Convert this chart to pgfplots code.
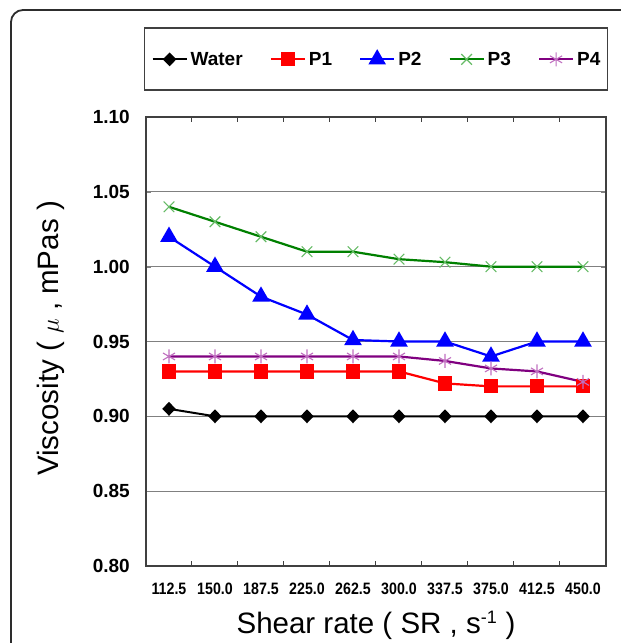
\documentclass[border=0pt]{standalone}
\usepackage{pgfplots}
\pgfplotsset{compat=1.18}
\usepackage{fontspec}
\setmainfont{Liberation Sans}
\definecolor{gridgray}{HTML}{808080}
\definecolor{axgray}{HTML}{404040}
\definecolor{pthree}{HTML}{008000}
\definecolor{pthreem}{HTML}{66BB66}
\definecolor{pfour}{HTML}{800080}
\definecolor{pfourm}{HTML}{C070C0}
\begin{document}
\begin{tikzpicture}[x=1pt,y=1pt]
\path[use as bounding box] (0,0) rectangle (621,643);
\draw[axgray!70!black, line width=1.8pt, rounded corners=12pt] (11,-20) -- (11,633) -- (660,633);
\begin{axis}[
  at={(146pt,77pt)}, anchor=south west,
  scale only axis, width=460pt, height=449pt,
  xmin=-0.5, xmax=9.5, ymin=0.8, ymax=1.1,
  xtick={0,1,2,3,4,5,6,7,8,9},
  xticklabels={112.5,150.0,187.5,225.0,262.5,300.0,337.5,375.0,412.5,450.0},
  minor xtick={0.5,1.5,2.5,3.5,4.5,5.5,6.5,7.5,8.5},
  major x tick style={draw=none},
  minor x tick style={axgray, line width=1pt},
  minor tick length=5pt,
  ytick={0.80,0.85,0.90,0.95,1.00,1.05,1.10},
  yticklabels={0.80,0.85,0.90,0.95,1.00,1.05,1.10},
  major tick length=5pt,
  tick align=inside,
  ymajorgrids, grid style={gridgray, line width=1.2pt},
  axis line style={axgray, line width=1.8pt},
  xticklabel style={font=\fontsize{16.5}{18}\selectfont\bfseries, xscale=0.86, anchor=north, inner sep=0pt, yshift=-17pt},
  yticklabel style={font=\fontsize{19}{21}\selectfont\bfseries, anchor=east, inner sep=0pt, xshift=-16pt},
  xlabel={Shear rate ( SR , s\textsuperscript{\fontsize{18}{20}\selectfont -1} )},
  ylabel={Viscosity ( $\mu$ , mPas )},
  label style={font=\fontsize{29.5}{33}\selectfont},
  xlabel style={at={(rel axis cs:0.5,0)}, anchor=base, inner sep=0pt, yshift=-67pt},
  ylabel style={at={(rel axis cs:0,0.5)}, anchor=center, inner sep=0pt, yshift=95pt, xshift=3pt},
  legend columns=-1,
  legend style={at={(0.5,1)}, anchor=south, yshift=26pt,
    draw=axgray, line width=1.5pt, inner xsep=7pt, inner ysep=23.5pt,
    font=\fontsize{19}{21}\selectfont\bfseries,
    nodes={inner sep=0pt},
    /tikz/every odd column/.style={column sep=3pt},
    /tikz/every even column/.style={column sep=27pt}},
  legend image code/.code={\draw[mark repeat=2,mark phase=2,#1] plot coordinates {(0pt,0pt) (17pt,0pt) (34pt,0pt)};},
]
\addplot[black, line width=2pt, mark=diamond*, mark size=5.5pt, mark options={solid, xscale=1.3, fill=black}]
  coordinates {(0,0.905) (1,0.900) (2,0.900) (3,0.900) (4,0.900) (5,0.900) (6,0.900) (7,0.900) (8,0.900) (9,0.900)};
\addlegendentry{Water}
\addplot[red, line width=2.2pt, mark=square*, mark size=6pt, mark options={solid, fill=red}]
  coordinates {(0,0.930) (1,0.930) (2,0.930) (3,0.930) (4,0.930) (5,0.930) (6,0.922) (7,0.920) (8,0.920) (9,0.920)};
\addlegendentry{P1}
\addplot[blue, line width=2.2pt, mark=triangle*, mark size=8pt, mark options={solid, fill=blue}]
  coordinates {(0,1.020) (1,1.000) (2,0.980) (3,0.968) (4,0.951) (5,0.950) (6,0.950) (7,0.940) (8,0.950) (9,0.950)};
\addlegendentry{P2}
\addplot[pthree, line width=2.2pt, mark=x, mark size=7.5pt, mark options={solid, pthreem, line width=1.1pt}]
  coordinates {(0,1.040) (1,1.030) (2,1.020) (3,1.010) (4,1.010) (5,1.005) (6,1.003) (7,1.000) (8,1.000) (9,1.000)};
\addlegendentry{P3}
\addplot[pfour, line width=2.2pt, mark=asterisk, mark size=7pt, mark options={solid, pfourm, line width=1.1pt}]
  coordinates {(0,0.940) (1,0.940) (2,0.940) (3,0.940) (4,0.940) (5,0.940) (6,0.937) (7,0.932) (8,0.930) (9,0.923)};
\addlegendentry{P4}
\end{axis}
\end{tikzpicture}
\end{document}
